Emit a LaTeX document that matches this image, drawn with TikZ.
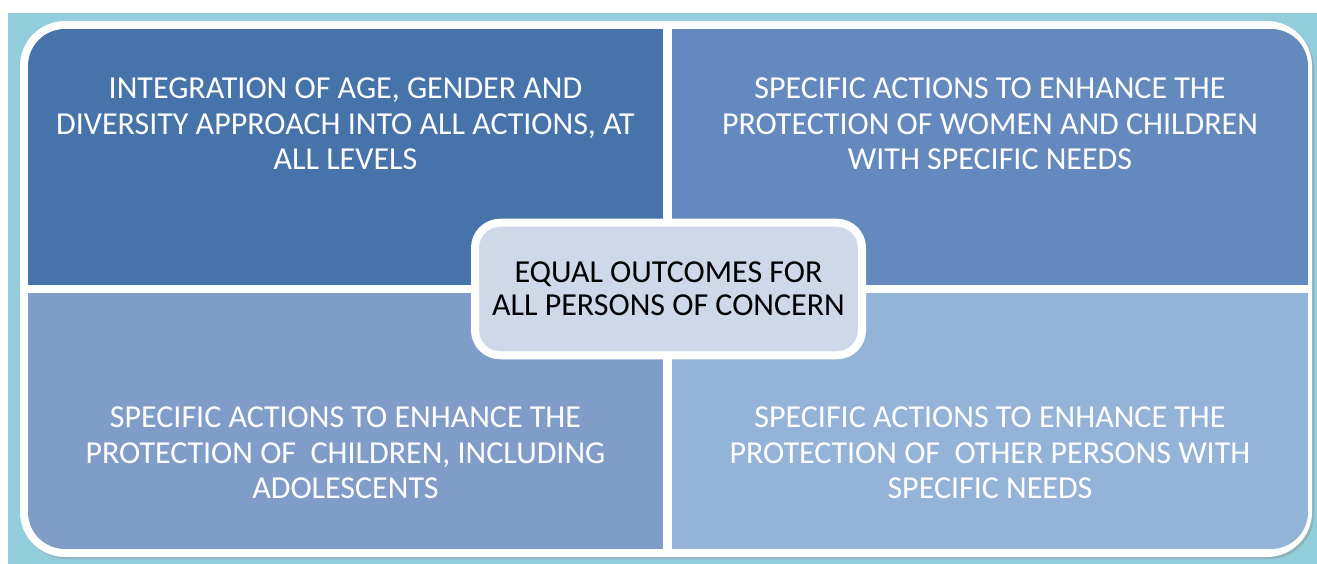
\documentclass[tikz,border=0pt]{standalone}
\usepackage{fontspec}
\setmainfont{Carlito}
\usetikzlibrary{shadows}
\definecolor{bgteal}{HTML}{92CDDC}
\definecolor{qa}{HTML}{4673AA}
\definecolor{qb}{HTML}{6389BE}
\definecolor{qc}{HTML}{809DC9}
\definecolor{qd}{HTML}{94B3D8}
\definecolor{cfill}{HTML}{CFD8E8}
\begin{document}
\begin{tikzpicture}[x=1pt,y=-1pt,
  frame/.style={fill=white,rounded corners=45pt,minimum width=1292pt,minimum height=536pt,inner sep=0pt,
    drop shadow={shadow xshift=2pt,shadow yshift=-2pt,opacity=0.35}},
  quad/.style={inner sep=0pt,minimum width=635pt,minimum height=256pt},
  quadtext/.style={text=white,align=center,inner sep=0pt,font=\fontsize{32}{35.5}\selectfont},
  centerbox/.style={fill=cfill,draw=white,line width=8pt,rounded corners=25pt,minimum width=387pt,minimum height=132.5pt,
    inner sep=0pt,align=center,font=\fontsize{32}{33}\selectfont,text=black,
    drop shadow={shadow xshift=2pt,shadow yshift=-3pt,opacity=0.35}}
]
\useasboundingbox (0,0) rectangle (1317,564);
\fill[white] (0,0) rectangle (1317,564);
\fill[bgteal] (8,13) rectangle (1317,564);
\node[frame] (frame) at (666,289) {};
\begin{scope}
  \clip[rounded corners=37pt] (28,29) rectangle (1308,549);
  \node[quad,fill=qa] (q1) at (345.5,157) {};
  \node[quad,fill=qb,minimum width=636pt] (q2) at (990,157) {};
  \node[quad,fill=qc] (q3) at (345.5,421) {};
  \node[quad,fill=qd,minimum width=636pt] (q4) at (990,421) {};
\end{scope}
\node[quadtext] (t1) at (345.5,124) {INTEGRATION OF AGE, GENDER AND\\DIVERSITY APPROACH INTO ALL ACTIONS, AT\\ALL LEVELS};
\node[quadtext] (t2) at (990,124) {SPECIFIC ACTIONS TO ENHANCE THE\\PROTECTION OF WOMEN AND CHILDREN\\WITH SPECIFIC NEEDS};
\node[quadtext] (t3) at (345.5,453) {SPECIFIC ACTIONS TO ENHANCE THE\\PROTECTION OF\ \ CHILDREN, INCLUDING\\ADOLESCENTS};
\node[quadtext] (t4) at (990,453) {SPECIFIC ACTIONS TO ENHANCE THE\\PROTECTION OF\ \ OTHER PERSONS WITH\\SPECIFIC NEEDS};
\node[centerbox] (c) at (668.5,289) {EQUAL OUTCOMES FOR\\ALL PERSONS OF CONCERN};
\end{tikzpicture}
\end{document}
